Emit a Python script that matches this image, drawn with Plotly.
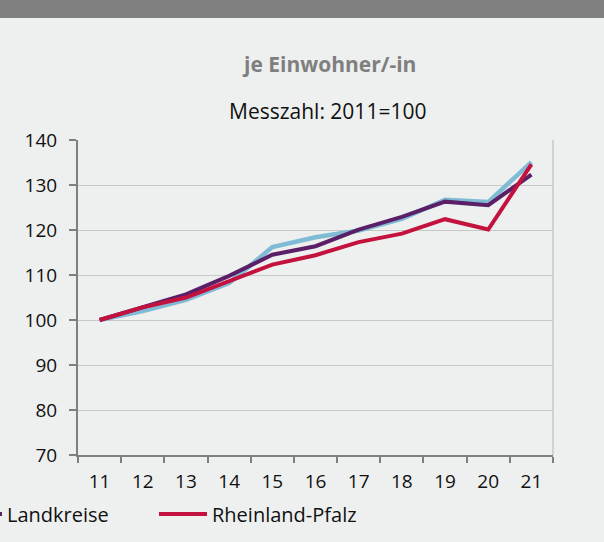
import plotly.graph_objects as go

years = ["11", "12", "13", "14", "15", "16", "17", "18", "19", "20", "21"]
kreisfreie = [100, 102.0, 104.5, 108.2, 116.2, 118.4, 119.9, 122.5, 126.7, 126.2, 135.1]
landkreise = [100, 102.8, 105.7, 109.8, 114.5, 116.4, 120.1, 122.9, 126.3, 125.5, 132.3]
rlp = [100, 102.8, 105.0, 108.6, 112.3, 114.4, 117.3, 119.2, 122.4, 120.1, 134.6]
y_ticks = [70, 80, 90, 100, 110, 120, 130, 140]

W, H = 604, 542
ML, MR, MT, MB = 78, 51, 140, 87
PW, PH = W - ML - MR, H - MT - MB

def px_x(x):
    return (x - ML) / PW

def px_y(y):
    return (H - MB - y) / PH

FONT = "Open Sans"
ITEMW = 48

fig = go.Figure()
# The reference crops the legend at the left edge, so the first entry lies off-canvas
fig.add_trace(go.Scatter(x=years, y=kreisfreie, name="Kreisfreie Städte", mode="lines",
                         showlegend=False, line=dict(color="#80bbd6", width=4.5)))
fig.add_trace(go.Scatter(x=years, y=landkreise, name="Landkreise", mode="lines",
                         line=dict(color="#5a1f66", width=4)))
fig.add_trace(go.Scatter(x=years, y=rlp, name="Rheinland-Pfalz", mode="lines",
                         line=dict(color="#c4123f", width=4)))

fig.update_layout(
    width=W, height=H,
    margin=dict(l=ML, r=MR, t=MT, b=MB, autoexpand=False),
    paper_bgcolor="#eef0ef", plot_bgcolor="#eef0ef",
    font=dict(family=FONT, size=19, color="#111111"),
    showlegend=True,
    legend=dict(orientation="h", xref="paper", yref="paper",
                x=px_x(7 - ITEMW - 10), y=px_y(514), xanchor="left", yanchor="middle",
                itemwidth=ITEMW,
                entrywidth=205 - ITEMW - 15, entrywidthmode="pixels",
                font=dict(family=FONT, size=20, color="#111111"),
                bgcolor="rgba(0,0,0,0)", tracegroupgap=0),
    xaxis=dict(type="category", range=[-0.5, 10.5], showgrid=False,
               showline=True, linecolor="#7f7f7f", linewidth=2,
               ticks="outside", tickson="boundaries", ticklen=6, tickcolor="#7f7f7f", tickwidth=2,
               ticklabelstandoff=8, zeroline=False),
    yaxis=dict(range=[70, 140], tickvals=y_ticks, showgrid=True, gridcolor="#c6c7c6", gridwidth=1,
               showline=True, linecolor="#7f7f7f", linewidth=2,
               ticks="outside", ticklen=7, tickcolor="#7f7f7f", tickwidth=2,
               ticklabelstandoff=8, zeroline=False),
    shapes=[
        dict(type="rect", xref="paper", yref="paper", x0=px_x(0), x1=px_x(W),
             y0=px_y(18), y1=px_y(0), fillcolor="#808080", line=dict(width=0), layer="above"),
        dict(type="line", xref="paper", yref="paper", x0=1, x1=1, y0=0, y1=1,
             line=dict(color="#c6c7c6", width=1.5)),
    ],
    annotations=[
        dict(text="<b>je Einwohner/-in</b>", xref="paper", yref="paper",
             x=px_x(329), y=px_y(64), xanchor="center", yanchor="middle", showarrow=False,
             font=dict(family=FONT, size=21, color="#7f7f7f")),
        dict(text="Messzahl: 2011=100", xref="paper", yref="paper",
             x=px_x(327), y=px_y(111), xanchor="center", yanchor="middle", showarrow=False,
             font=dict(family=FONT, size=21, color="#111111")),
    ],
)

fig.write_html("out.html", config={"displayModeBar": False},
               post_script="document.body.style.margin='0';")
